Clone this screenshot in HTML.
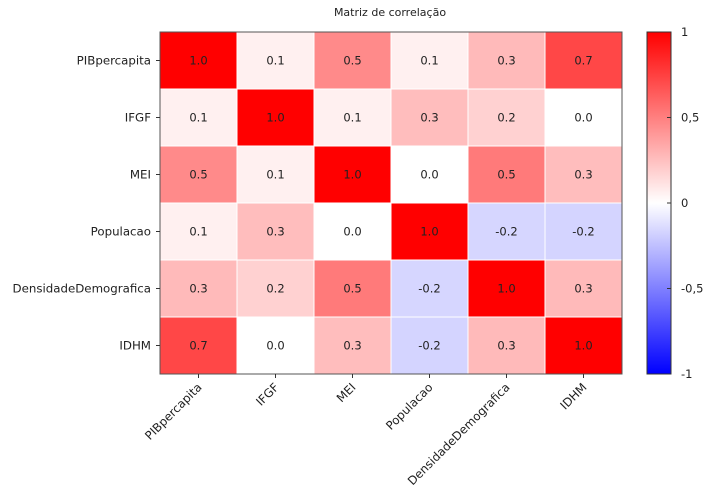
<!DOCTYPE html>
<html><head><meta charset="utf-8"><style>
body{margin:0;background:#fff;width:709px;height:489px;overflow:hidden;font-family:"DejaVu Sans","Liberation Sans",sans-serif;}
svg text{font-family:"DejaVu Sans","Liberation Sans",sans-serif;}
</style></head><body>
<svg id="chart" width="709" height="489">
<defs><linearGradient id="cg" x1="0" y1="1" x2="0" y2="0">
<stop offset="0" stop-color="#0000ff"/><stop offset="0.5" stop-color="#ffffff"/><stop offset="1" stop-color="#ff0000"/>
</linearGradient></defs>
<text x="390" y="16" font-size="11" text-anchor="middle" fill="#222">Matriz de correlação</text>
<g id="cells"></g>
<g id="axes"></g>
</svg>
<script>
const categories = ["PIBpercapita","IFGF","MEI","Populacao","DensidadeDemografica","IDHM"];
const corrValues = [
 [1.0, 0.06, 0.46, 0.06, 0.27, 0.72],
 [0.06, 1.0, 0.06, 0.26, 0.18, 0.0],
 [0.46, 0.06, 1.0, 0.0, 0.52, 0.26],
 [0.06, 0.26, 0.0, 1.0, -0.16, -0.17],
 [0.27, 0.18, 0.52, -0.16, 1.0, 0.27],
 [0.72, 0.0, 0.26, -0.17, 0.27, 1.0]
];
const colorbarTicks = [1, 0.5, 0, -0.5, -1];
const colorbarLabels = ["1","0,5","0","-0,5","-1"];

const NS="http://www.w3.org/2000/svg";
const L=160,T=32,R=622,B=374;
const n=categories.length, cw=(R-L)/n, ch=(B-T)/n;
const xPos=i=>L+i*cw, yPos=i=>T+i*ch;
function color(v){
  v=Math.max(-1,Math.min(1,v));
  if(v>=0){const g=Math.round(255*(1-v));return `rgb(255,${g},${g})`;}
  const g=Math.round(255*(1+v));return `rgb(${g},${g},255)`;
}
function mk(tag,attrs,parent){const e=document.createElementNS(NS,tag);for(const k in attrs)e.setAttribute(k,attrs[k]);parent.appendChild(e);return e;}
const cells=document.getElementById('cells'), axes=document.getElementById('axes');
corrValues.forEach((row,r)=>row.forEach((v,c)=>{
  const rect=mk('rect',{x:xPos(c),y:yPos(r),width:cw,height:ch,fill:color(v),stroke:'#fff','stroke-width':1},cells);
  
  
  const t=mk('text',{x:xPos(c)+cw/2,y:yPos(r)+ch/2+4,'font-size':11.5,'text-anchor':'middle',fill:'#222'},cells);
  t.textContent=v.toFixed(1);
  
  
}));
const frame=mk('rect',{x:L,y:T,width:R-L,height:B-T,fill:'none',stroke:'#555','stroke-width':1},axes);


categories.forEach((name,i)=>{
  const cy=yPos(i)+ch/2;
  mk('line',{x1:L-4,x2:L,y1:cy,y2:cy,stroke:'#333'},axes);
  const yl=mk('text',{x:L-9,y:cy+4,'font-size':11.8,'text-anchor':'end',fill:'#222'},axes);
  yl.textContent=name;
  
  
  const cx=xPos(i)+cw/2;
  mk('line',{x1:cx,x2:cx,y1:B,y2:B+4,stroke:'#333'},axes);
  const xl=mk('text',{x:cx+4,y:B+14,'font-size':11.8,'text-anchor':'end',fill:'#222',transform:`rotate(-45 ${cx+4} ${B+14})`},axes);
  xl.textContent=name;
  
  
});
const cbL=647,cbW=24;
const cb=mk('rect',{x:cbL,y:T,width:cbW,height:B-T,fill:'url(#cg)',stroke:'#333','stroke-width':1},axes);


const cbY=v=>T+(1-v)/2*(B-T);
colorbarTicks.forEach((v,i)=>{
  const y=cbY(v);
  mk('line',{x1:cbL+cbW-4,x2:cbL+cbW,y1:y,y2:y,stroke:'#333'},axes);
  const t=mk('text',{x:cbL+cbW+10,y:y+4,'font-size':11.5,fill:'#222'},axes);
  t.textContent=colorbarLabels[i];
  
  
});
</script>
</body></html>
